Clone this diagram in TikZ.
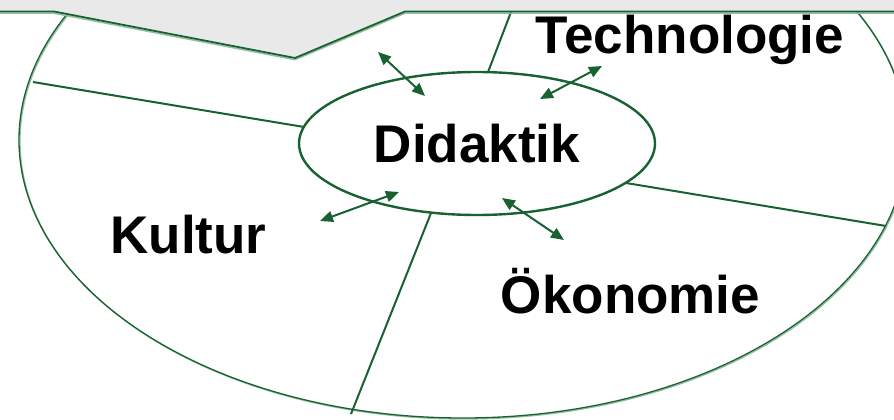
\documentclass[tikz,border=0pt]{standalone}
\usepackage{fontspec}
\setmainfont{Liberation Sans}
\usetikzlibrary{shapes.geometric,arrows.meta}
\definecolor{dgreen}{RGB}{24,98,50}
\definecolor{sgreen}{RGB}{150,190,160}
\definecolor{lgray}{RGB}{233,233,233}
\tikzset{
  divider/.style={draw=dgreen, line width=2pt},
  bigring/.style={draw=dgreen, line width=1.3pt},
  ringshadow/.style={draw=sgreen, line width=1.3pt},
  centre/.style={ellipse, draw=dgreen, line width=2.4pt, fill=white, minimum width=356pt, minimum height=143pt, inner sep=0pt, font=\bfseries\fontsize{53}{60}\selectfont},
  biglabel/.style={anchor=base, inner sep=0pt, font=\bfseries\fontsize{53}{60}\selectfont},
  dblarrow/.style={draw=dgreen, line width=2pt, {Triangle[length=13pt,width=11pt]}-{Triangle[length=13pt,width=11pt]}},
  grayband/.style={fill=lgray, draw=none},
  bandedge/.style={draw=dgreen, line width=1.8pt},
  bandshadow/.style={draw=sgreen, line width=1.5pt}
}
\begin{document}
\begin{tikzpicture}[x=1pt,y=-1pt]
\useasboundingbox (0,0) rectangle (894,420);
\clip (0,0) rectangle (894,420);
\fill[white] (0,0) rectangle (894,420);
% big ellipse
\draw[ringshadow] (464,141) ellipse [x radius=444, y radius=278];
\draw[bigring] (463,140) ellipse [x radius=444, y radius=278];
% dividers
\coordinate (d1a) at (33,82);   \coordinate (d1b) at (310,128);
\coordinate (d2a) at (485,80);  \coordinate (d2b) at (511,12);
\coordinate (d3a) at (620,182); \coordinate (d3b) at (886,226);
\coordinate (d4a) at (433,208); \coordinate (d4b) at (351,414);
\draw[divider] (d1a) -- (d1b);
\draw[divider] (d2a) -- (d2b);
\draw[divider] (d3a) -- (d3b);
\draw[divider] (d4a) -- (d4b);
% centre ellipse
\node[centre] (did) at (477,143.5) {Didaktik};
% grey band with notch
\fill[grayband] (0,0) -- (894,0) -- (894,11.5) -- (405,11.5) -- (295,58) -- (54,11.5) -- (0,11.5) -- cycle;
\draw[bandshadow] (0,13.2) -- (54,13.2) -- (295,59.7) -- (405,13.2) -- (894,13.2);
\draw[bandedge] (0,11.5) -- (54,11.5) -- (295,58) -- (405,11.5) -- (894,11.5);
% arrows
\coordinate (a1s) at (378,52);  \coordinate (a1e) at (425,96);
\coordinate (a2s) at (602,66);  \coordinate (a2e) at (540,99);
\coordinate (a3s) at (320,221); \coordinate (a3e) at (399,192);
\coordinate (a4s) at (502,198); \coordinate (a4e) at (564,240);
\draw[dblarrow] (a1s) -- (a1e);
\draw[dblarrow] (a2s) -- (a2e);
\draw[dblarrow] (a3s) -- (a3e);
\draw[dblarrow] (a4s) -- (a4e);
% labels
\node[biglabel] (tech) at (690,53) {Technologie};
\node[biglabel] (kult) at (188.5,253) {Kultur};
\node[biglabel] (oeko) at (630.5,313) {Ökonomie};
\end{tikzpicture}
\end{document}
